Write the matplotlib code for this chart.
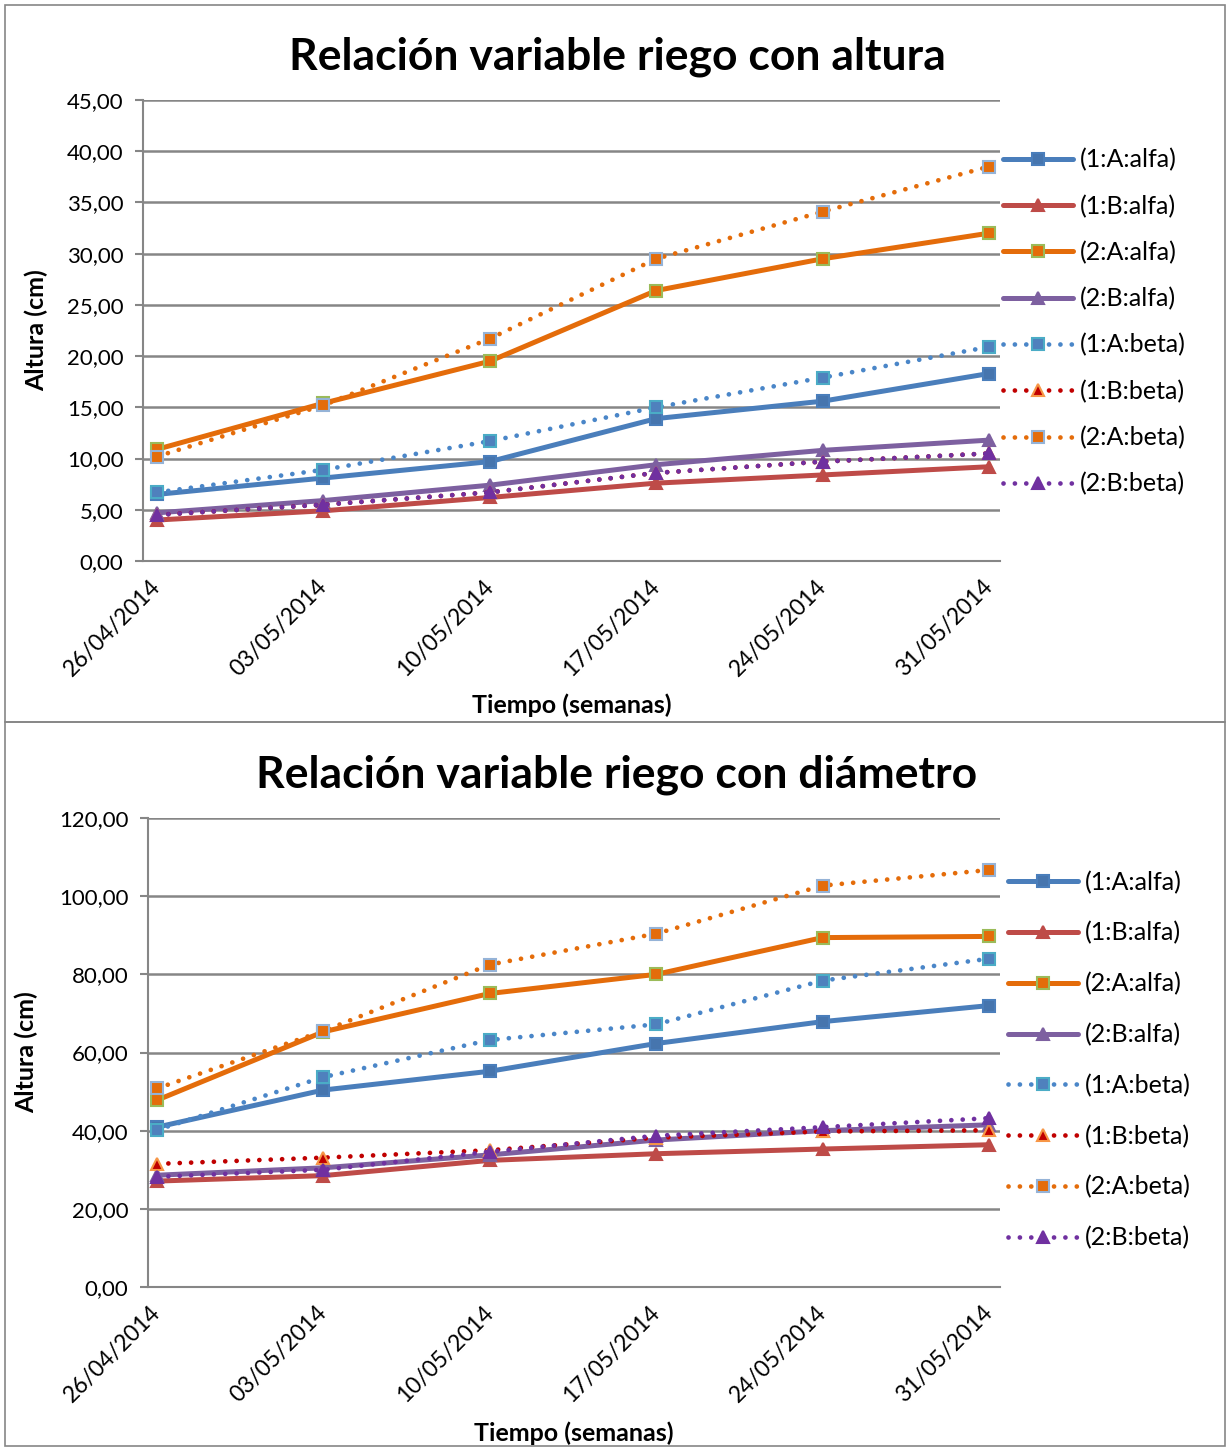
import matplotlib
matplotlib.use("Agg")
import numpy as np
import matplotlib.pyplot as plt
from matplotlib.patches import Rectangle

plt.rcParams['font.family'] = ['Lato', 'DejaVu Sans']

fechas = ["26/04/2014", "03/05/2014", "10/05/2014", "17/05/2014", "24/05/2014", "31/05/2014"]
series = ["(1:A:alfa)", "(1:B:alfa)", "(2:A:alfa)", "(2:B:alfa)",
          "(1:A:beta)", "(1:B:beta)", "(2:A:beta)", "(2:B:beta)"]

# altura (cm)
alt_1A_alfa = [6.5, 8.1, 9.7, 13.9, 15.6, 18.3]
alt_1B_alfa = [4.0, 4.9, 6.2, 7.6, 8.4, 9.2]
alt_2A_alfa = [10.9, 15.4, 19.5, 26.4, 29.5, 32.0]
alt_2B_alfa = [4.7, 5.9, 7.4, 9.4, 10.8, 11.8]
alt_1A_beta = [6.7, 8.9, 11.7, 15.0, 17.9, 20.9]
alt_1B_beta = [4.5, 5.5, 6.7, 8.6, 9.7, 10.5]
alt_2A_beta = [10.2, 15.2, 21.7, 29.5, 34.1, 38.5]
alt_2B_beta = [4.5, 5.5, 6.7, 8.6, 9.7, 10.5]

# diametro
dia_1A_alfa = [40.9, 50.4, 55.2, 62.3, 67.9, 72.0]
dia_1B_alfa = [27.1, 28.5, 32.4, 34.1, 35.3, 36.4]
dia_2A_alfa = [47.8, 65.3, 75.1, 80.0, 89.4, 89.7]
dia_2B_alfa = [28.6, 30.5, 33.8, 37.6, 40.0, 41.5]
dia_1A_beta = [40.2, 53.7, 63.2, 67.2, 78.4, 84.0]
dia_1B_beta = [31.5, 33.1, 35.0, 38.2, 39.8, 40.1]
dia_2A_beta = [50.8, 65.5, 82.5, 90.4, 102.7, 106.7]
dia_2B_beta = [28.2, 30.0, 34.6, 38.7, 40.9, 43.2]

# line color, marker, marker face, marker edge, dotted?
estilos = [
    ("#4A7EBB", "s", "#4675AE", "#4A7EBB", False),
    ("#BE4B48", "^", "#BE4B48", "#BE4B48", False),
    ("#E46C0A", "s", "#E46C0A", "#9BBB59", False),
    ("#7D60A0", "^", "#7D60A0", "#7D60A0", False),
    ("#4A86C8", "s", "#4F81BD", "#4BACC6", True),
    ("#C00000", "^", "#C00000", "#F79646", True),
    ("#E46C0A", "s", "#E46C0A", "#95B3D7", True),
    ("#7030A0", "^", "#7030A0", "#7030A0", True),
]

fig = plt.figure(figsize=(12.28, 14.48), dpi=100)
W, H = 1228.0, 1448.0


def panel(ax_rect, datos, ylim, yticks, titulo, title_y, leg_y, leg_x, spacing):
    ax = fig.add_axes(ax_rect)
    x = np.arange(len(fechas))
    handles = []
    for vals, (c, m, mfc, mec, dotted), lab in zip(datos, estilos, series):
        if dotted:
            h, = ax.plot(x, vals, color=c, lw=3.4, linestyle=(0, (0.01, 2.4)),
                         dash_capstyle='round', marker=m, ms=9, mfc=mfc, mec=mec,
                         mew=1.5, label=lab)
        else:
            h, = ax.plot(x, vals, color=c, lw=3.6, marker=m, ms=9, mfc=mfc,
                         mec=mec, mew=1.5, label=lab, solid_capstyle='round')
        handles.append(h)
    ax.set_ylim(*ylim)
    ax.set_yticks(yticks)
    ax.set_yticklabels([("%.2f" % v).replace(".", ",") for v in yticks], fontsize=16)
    ax.set_xticks(x)
    ax.set_xticklabels(fechas, rotation=45, ha='right', rotation_mode='anchor',
                       fontsize=16.5, va='center')
    ax.tick_params(axis='x', length=0, pad=16)
    ax.tick_params(axis='y', length=6, width=1.5, color='#868686', pad=8)
    ax.grid(axis='y', color='#868686', lw=1.8)
    ax.set_axisbelow(True)
    for s in ['top', 'right']:
        ax.spines[s].set_visible(False)
    for s in ['left', 'bottom']:
        ax.spines[s].set_color('#868686')
        ax.spines[s].set_linewidth(1.5)
    ax.set_ylabel("Altura (cm)", fontsize=18, fontweight='bold')
    ax.set_xlabel("Tiempo (semanas)", fontsize=18, fontweight='bold')
    fig.text(617 / W, 1 - title_y / H, titulo, fontsize=32, fontweight='bold',
             ha='center', va='center')
    ax.legend(handles=handles, loc='center left', frameon=False, fontsize=18,
              bbox_to_anchor=(leg_x, leg_y), bbox_transform=fig.transFigure,
              handlelength=2.8, handletextpad=0.3, labelspacing=spacing,
              borderpad=0, numpoints=1)
    return ax


ax1 = panel([143 / W, 1 - 561 / H, 857 / W, 461 / H],
            [alt_1A_alfa, alt_1B_alfa, alt_2A_alfa, alt_2B_alfa,
             alt_1A_beta, alt_1B_beta, alt_2A_beta, alt_2B_beta],
            (0, 45), np.arange(0, 46, 5), "Relación variable riego con altura",
            57, 1 - 322 / H, 990 / W, 0.92)
ax1.set_xlim(-0.084, 5.066)
ax1.xaxis.set_label_coords(0.5, -0.287)
ax1.yaxis.set_label_coords(-0.111, 0.501)

ax2 = panel([148 / W, 1 - 1287 / H, 852 / W, 469 / H],
            [dia_1A_alfa, dia_1B_alfa, dia_2A_alfa, dia_2B_alfa,
             dia_1A_beta, dia_1B_beta, dia_2A_beta, dia_2B_beta],
            (0, 120), np.arange(0, 121, 20), "Relación variable riego con diámetro",
            775, 1 - 1060 / H, 995 / W, 1.10)
ax2.set_xlim(-0.054, 5.066)
ax2.xaxis.set_label_coords(0.5, -0.287)
ax2.yaxis.set_label_coords(-0.129, 0.501)

# chart borders
fig.patches.append(Rectangle((5 / W, 1 - 722 / H), 1220 / W, 717 / H,
                             transform=fig.transFigure, fill=False,
                             edgecolor='#868686', lw=1.2))
fig.patches.append(Rectangle((5 / W, 1 - 1446 / H), 1220 / W, 724 / H,
                             transform=fig.transFigure, fill=False,
                             edgecolor='#868686', lw=1.2))

fig.savefig("out.png", dpi=100)
